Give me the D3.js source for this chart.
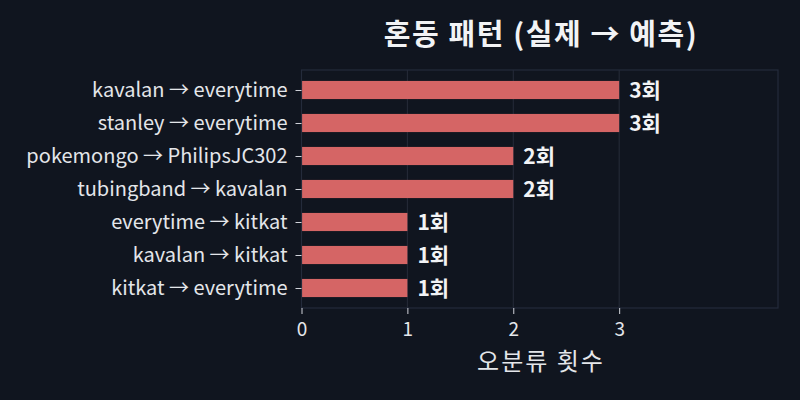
<!DOCTYPE html>
<html>
<head>
<meta charset="utf-8">
<script src="https://cdn.jsdelivr.net/npm/d3@7"></script>
<style>
  body { margin: 0; background: #10151f; }
  text { font-family: "Noto Sans CJK KR", "Noto Sans", sans-serif; }
</style>
</head>
<body>
<script>
// 혼동 패턴 데이터 (위에서 아래 순서)
const pairs = [
  'kavalan → everytime',
  'stanley → everytime',
  'pokemongo → PhilipsJC302',
  'tubingband → kavalan',
  'everytime → kitkat',
  'kavalan → kitkat',
  'kitkat → everytime'
];
const counts = [3, 3, 2, 2, 1, 1, 1];
const xTicks = [0, 1, 2, 3];

const W = 800, H = 400;
const m = { left: 301.5, right: 778, top: 70, bottom: 308 };

const svg = d3.select('body')
  .append('svg')
  .attr('width', W)
  .attr('height', H);

svg.append('rect').attr('width', W).attr('height', H).attr('fill', '#10151f');

const x = d3.scaleLinear().domain([0, 4.5]).range([m.left, m.right]);
const y = d3.scaleLinear().domain([-0.606, pairs.length - 1 + 0.606]).range([m.top, m.bottom]);
const barH = (y(1) - y(0)) * 0.55;

// grid
svg.append('g')
  .selectAll('line')
  .data(xTicks)
  .join('line')
  .attr('x1', d => x(d)).attr('x2', d => x(d))
  .attr('y1', m.top).attr('y2', m.bottom)
  .attr('stroke', '#262c3a')
  .attr('stroke-width', 1);

// bars
svg.append('g')
  .selectAll('rect')
  .data(counts)
  .join('rect')
  .attr('x', x(0))
  .attr('y', (d, i) => y(i) - barH / 2)
  .attr('width', d => x(d) - x(0))
  .attr('height', barH)
  .attr('fill', '#d56565');

// frame
svg.append('rect')
  .attr('x', m.left).attr('y', m.top)
  .attr('width', m.right - m.left).attr('height', m.bottom - m.top)
  .attr('fill', 'none')
  .attr('stroke', '#242b3b')
  .attr('stroke-width', 1.2);

// x axis
const xAxis = svg.append('g')
  .attr('transform', `translate(0,${m.bottom})`)
  .call(d3.axisBottom(x).tickValues(xTicks).tickSize(6).tickPadding(9).tickFormat(d3.format('d')));
xAxis.select('.domain').remove();
xAxis.selectAll('line').attr('stroke', '#d0d3da');
xAxis.selectAll('text').attr('fill', '#e4e6ea').style('font-size', '19px');

// y axis
const yAxis = svg.append('g')
  .attr('transform', `translate(${m.left},0)`)
  .call(d3.axisLeft(y).tickValues(d3.range(pairs.length)).tickSize(6).tickPadding(8).tickFormat(i => pairs[i]));
yAxis.select('.domain').remove();
yAxis.selectAll('line').attr('stroke', '#d0d3da');
yAxis.selectAll('text').attr('fill', '#e4e6ea').style('font-size', '20px');

// value labels
svg.append('g')
  .selectAll('text')
  .data(counts)
  .join('text')
  .attr('x', d => x(d) + 10)
  .attr('y', (d, i) => y(i))
  .attr('dy', '0.36em')
  .attr('fill', '#f2f3f5')
  .style('font-size', '21px')
  .style('font-weight', 'bold')
  .text(d => d + '회');

// axis label
svg.append('text')
  .attr('x', 541)
  .attr('y', 370)
  .attr('text-anchor', 'middle')
  .attr('fill', '#e4e6ea')
  .style('font-size', '24px')
  .style('letter-spacing', '2px')
  .text('오분류 횟수');

// title
svg.append('text')
  .attr('x', 541)
  .attr('y', 45)
  .attr('text-anchor', 'middle')
  .attr('fill', '#f2f3f5')
  .style('font-size', '29px')
  .style('font-weight', 'bold')
  .style('letter-spacing', '1.6px')
  .text('혼동 패턴 (실제 → 예측)');
</script>
</body>
</html>
